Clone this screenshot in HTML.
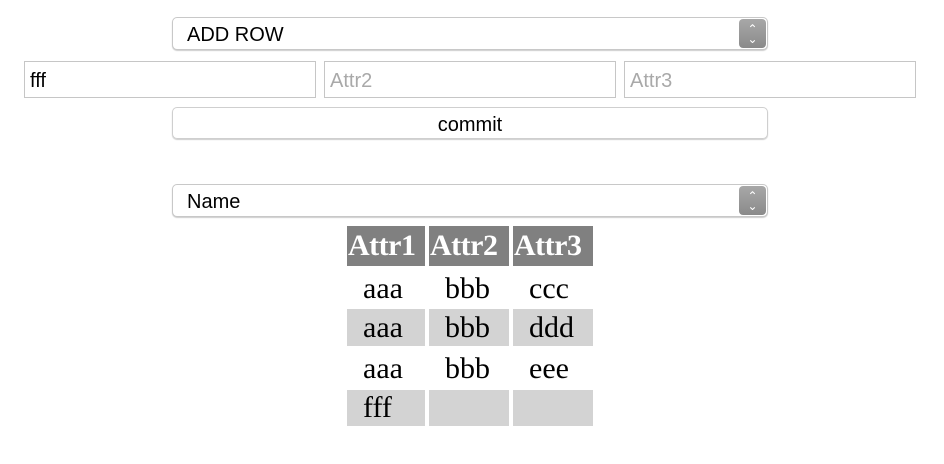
<!DOCTYPE html>
<html><head><style>
body{margin:0;width:944px;height:464px;background:#fff;position:relative;font-family:"Liberation Sans",sans-serif;overflow:hidden}
.sel{position:absolute;left:172px;width:596px;height:33px;border:1px solid #c8c8c8;border-radius:5px;box-shadow:0 1px 1px rgba(0,0,0,.2);box-sizing:border-box;font-size:20px;line-height:34px;padding-left:14px;background:#fff}
.sel .arr{position:absolute;right:1px;top:1px;width:27px;height:29px;background:linear-gradient(#a8a8a8,#8a8a8a);border-radius:4px;color:#fff;font-size:12px;line-height:10px;text-align:center;padding-top:5px;box-sizing:border-box}
.inp{position:absolute;top:61px;width:292px;height:37px;border:1px solid #c6c6c6;box-sizing:border-box;font-size:20px;line-height:38px;padding-left:5px;color:#a9a9a9}
.btn{position:absolute;left:172px;top:107px;width:596px;height:32px;border:1px solid #cfcfcf;border-radius:5px;box-shadow:0 1px 1px rgba(0,0,0,.2);box-sizing:border-box;font-size:20px;line-height:34px;text-align:center}
.c{position:absolute;font-family:"Liberation Serif",serif;font-size:30px;line-height:40px;padding-left:16px;box-sizing:border-box}
.h{background:#808080;color:#fff;font-weight:bold;padding-left:1px;height:40px;line-height:40px;top:226px;letter-spacing:-0.5px}
.g{background:#d3d3d3}
</style></head><body>
<div class="sel" style="top:17px">ADD ROW<div class="arr">&#8963;<br>&#8964;</div></div>
<div class="inp" style="left:24px;color:#000">fff</div>
<div class="inp" style="left:324px">Attr2</div>
<div class="inp" style="left:624px">Attr3</div>
<div class="btn">commit</div>
<div class="sel" style="top:184px">Name<div class="arr">&#8963;<br>&#8964;</div></div>

<div class="c h" style="left:347px;width:78px">Attr1</div>
<div class="c h" style="left:429px;width:80px">Attr2</div>
<div class="c h" style="left:513px;width:80px">Attr3</div>

<div class="c" style="left:347px;top:269px;width:78px">aaa</div>
<div class="c" style="left:429px;top:269px;width:80px">bbb</div>
<div class="c" style="left:513px;top:269px;width:80px">ccc</div>

<div class="c g" style="left:347px;top:309px;width:78px;height:37px;line-height:38px">aaa</div>
<div class="c g" style="left:429px;top:309px;width:80px;height:37px;line-height:38px">bbb</div>
<div class="c g" style="left:513px;top:309px;width:80px;height:37px;line-height:38px">ddd</div>

<div class="c" style="left:347px;top:349px;width:78px">aaa</div>
<div class="c" style="left:429px;top:349px;width:80px">bbb</div>
<div class="c" style="left:513px;top:349px;width:80px">eee</div>

<div class="c g" style="left:347px;top:390px;width:78px;height:36px;line-height:36px">fff</div>
<div class="c g" style="left:429px;top:390px;width:80px;height:36px"></div>
<div class="c g" style="left:513px;top:390px;width:80px;height:36px"></div>
</body></html>
